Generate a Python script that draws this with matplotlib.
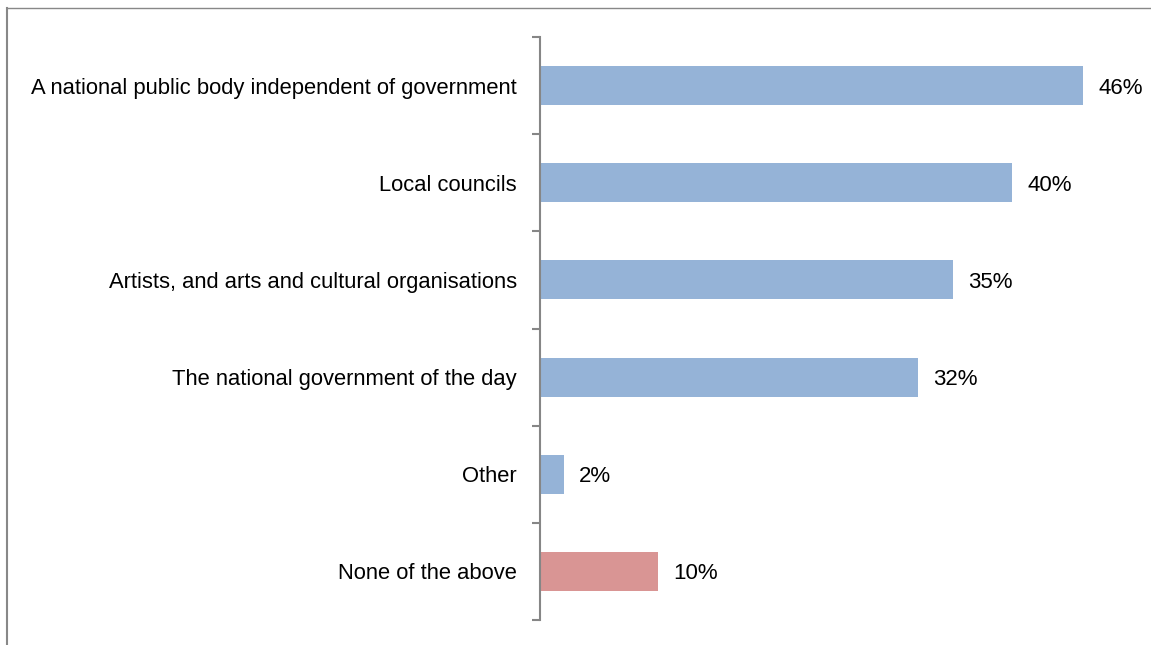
import matplotlib
matplotlib.use("Agg")
import matplotlib.pyplot as plt
from matplotlib.lines import Line2D

categories = [
    "A national public body independent of government",
    "Local councils",
    "Artists, and arts and cultural organisations",
    "The national government of the day",
    "Other",
    "None of the above",
]
values = [46, 40, 35, 32, 2, 10]
bar_colors = ["#95B3D7", "#95B3D7", "#95B3D7", "#95B3D7", "#95B3D7", "#D99594"]
value_labels = [f"{v}%" for v in values]

plt.rcParams["font.family"] = ["Liberation Sans", "DejaVu Sans"]

W, H = 1151, 645
fig = plt.figure(figsize=(W / 100, H / 100), dpi=100)
ax = fig.add_axes([540 / W, 1 - 620 / H, 590 / W, (620 - 37) / H])

y = list(range(len(categories)))
ax.barh(y, values, height=0.4, color=bar_colors, zorder=2)
ax.set_ylim(len(categories) - 0.5, -0.5)
ax.set_xlim(0, 50)

for yi, v, lab in zip(y, values, value_labels):
    ax.annotate(lab, xy=(v, yi), xytext=(11, 0), textcoords="offset points",
                ha="left", va="center_baseline", fontsize=16, color="#000000")

ax.set_yticks(y)
ax.set_yticklabels(categories, fontsize=15.8, va="center_baseline")
ax.tick_params(axis="y", which="major", length=0, pad=16.5)
ax.set_yticks([i - 0.5 for i in range(len(categories) + 1)], minor=True)
ax.tick_params(axis="y", which="minor", length=6, width=1.5, color="#868686", direction="out")
ax.set_xticks([])

for side in ("top", "right", "bottom"):
    ax.spines[side].set_visible(False)
ax.spines["left"].set_color("#868686")
ax.spines["left"].set_linewidth(1.5)

# outer frame of the chart area
fig.add_artist(Line2D([7 / W, 7 / W], [0, 1 - 8 / H], transform=fig.transFigure,
                      color="#888888", linewidth=1.5))
fig.add_artist(Line2D([7 / W, 1], [1 - 8 / H, 1 - 8 / H], transform=fig.transFigure,
                      color="#888888", linewidth=1.0))

fig.savefig("out.png", dpi=100, facecolor="white")
